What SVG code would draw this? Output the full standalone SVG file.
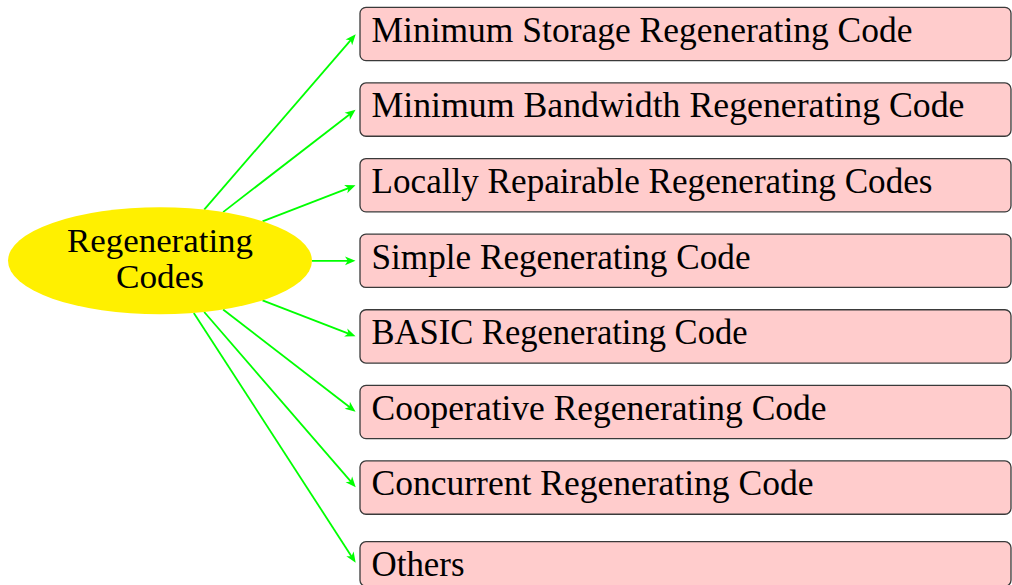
<svg xmlns="http://www.w3.org/2000/svg" width="1012" height="585" viewBox="0 0 1012 585">
  <style>
    .lbl { font-family: "Liberation Serif", "Times New Roman", serif; font-size: 35.5px; fill: #000; }
    .root-lbl { font-family: "Liberation Serif", "Times New Roman", serif; font-size: 33px; fill: #000; }
    .box { fill: #ffcccc; stroke: #3a3a3a; stroke-width: 1.3; }
    .edge { fill: none; stroke: #00ff00; stroke-width: 1.8; marker-end: url(#tip); }
  </style>
  <defs>
    <marker id="tip" markerUnits="userSpaceOnUse" markerWidth="12" markerHeight="10" refX="6.5" refY="4.75" orient="auto" overflow="visible">
      <path d="M0,0.4 L10.5,4.75 L0,9.1 L2.8,4.75 Z" fill="#00ff00"/>
    </marker>
  </defs>

  <!-- connectors from the root ellipse to the west side of each box -->
  <g id="connectors">
    <path class="edge" d="M204.2,209.6 L353.1,37.4"/>
    <path class="edge" d="M223.1,212.1 L352.4,112.3"/>
    <path class="edge" d="M262.5,221.3 L351.8,186.8"/>
    <path class="edge" d="M312,260.8 L351.5,260.8"/>
    <path class="edge" d="M262.5,300.3 L351.8,334.8"/>
    <path class="edge" d="M223.1,309.5 L352.4,409.2"/>
    <path class="edge" d="M204.2,312.0 L353.1,484.2"/>
    <path class="edge" d="M193.8,313.0 L353.5,559.4"/>
  </g>

  <!-- root node -->
  <g id="root">
    <ellipse cx="160" cy="260.8" rx="152" ry="53.5" fill="#fff000"/>
    <text class="root-lbl" x="160" y="252" text-anchor="middle" textLength="186" lengthAdjust="spacingAndGlyphs">Regenerating</text>
    <text class="root-lbl" x="160" y="287.5" text-anchor="middle" textLength="88" lengthAdjust="spacingAndGlyphs">Codes</text>
  </g>

  <!-- leaf nodes -->
  <g id="msr">
    <rect class="box" x="360" y="7.35" width="651" height="53.3" rx="6"/>
    <text class="lbl" x="371.5" y="41.75" textLength="541" lengthAdjust="spacingAndGlyphs">Minimum Storage Regenerating Code</text>
  </g>
  <g id="mbr">
    <rect class="box" x="360" y="82.95" width="651" height="53.3" rx="6"/>
    <text class="lbl" x="371.5" y="117.35" textLength="593" lengthAdjust="spacingAndGlyphs">Minimum Bandwidth Regenerating Code</text>
  </g>
  <g id="lrc">
    <rect class="box" x="360" y="158.55" width="651" height="53.3" rx="6"/>
    <text class="lbl" x="371.5" y="192.95" textLength="561" lengthAdjust="spacingAndGlyphs">Locally Repairable Regenerating Codes</text>
  </g>
  <g id="simple">
    <rect class="box" x="360" y="234.15" width="651" height="53.3" rx="6"/>
    <text class="lbl" x="371.5" y="268.55" textLength="379" lengthAdjust="spacingAndGlyphs">Simple Regenerating Code</text>
  </g>
  <g id="basic">
    <rect class="box" x="360" y="309.75" width="651" height="53.3" rx="6"/>
    <text class="lbl" x="371.5" y="344.15" textLength="376" lengthAdjust="spacingAndGlyphs">BASIC Regenerating Code</text>
  </g>
  <g id="cooperative">
    <rect class="box" x="360" y="385.35" width="651" height="53.3" rx="6"/>
    <text class="lbl" x="371.5" y="419.75" textLength="455" lengthAdjust="spacingAndGlyphs">Cooperative Regenerating Code</text>
  </g>
  <g id="concurrent">
    <rect class="box" x="360" y="460.95" width="651" height="53.3" rx="6"/>
    <text class="lbl" x="371.5" y="495.35" textLength="442" lengthAdjust="spacingAndGlyphs">Concurrent Regenerating Code</text>
  </g>
  <g id="others">
    <rect class="box" x="360" y="541.7" width="651" height="44.5" rx="6"/>
    <text class="lbl" x="371.5" y="576.1" textLength="93" lengthAdjust="spacingAndGlyphs">Others</text>
  </g>
</svg>
